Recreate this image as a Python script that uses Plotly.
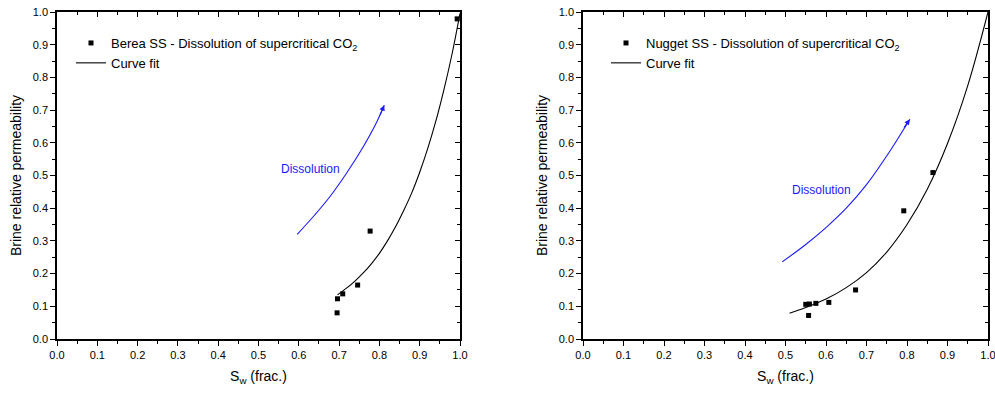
import plotly.graph_objects as go

# ---- Data ----
berea_sw = [0.993, 0.777, 0.746, 0.709, 0.696, 0.695]
berea_kr = [0.979, 0.330, 0.165, 0.138, 0.123, 0.080]
berea_fit_sw = [0.696, 0.72, 0.74, 0.76, 0.78, 0.80, 0.82, 0.84, 0.86, 0.88, 0.90, 0.92, 0.94, 0.96, 0.98, 1.0]
berea_fit_kr = [0.135, 0.157, 0.178, 0.202, 0.230, 0.262, 0.300, 0.343, 0.392, 0.446, 0.510, 0.583, 0.666, 0.762, 0.870, 0.996]
berea_arrow_sw = [0.596, 0.64, 0.677, 0.72, 0.760, 0.79, 0.812]
berea_arrow_kr = [0.320, 0.380, 0.435, 0.510, 0.588, 0.655, 0.715]

nugget_sw = [0.864, 0.792, 0.673, 0.607, 0.575, 0.559, 0.550, 0.557]
nugget_kr = [0.509, 0.392, 0.150, 0.112, 0.109, 0.107, 0.106, 0.072]
nugget_fit_sw = [0.51, 0.55, 0.60, 0.65, 0.70, 0.75, 0.80, 0.85, 0.90, 0.95, 1.0]
nugget_fit_kr = [0.079, 0.096, 0.122, 0.157, 0.203, 0.266, 0.350, 0.458, 0.598, 0.775, 1.0]
nugget_arrow_sw = [0.492, 0.55, 0.602, 0.65, 0.700, 0.758, 0.807]
nugget_arrow_kr = [0.236, 0.289, 0.343, 0.400, 0.472, 0.575, 0.672]

W, H = 995, 394
FONT = "Liberation Sans, Arial, sans-serif"
BLUE = "#1a1aff"

fig = go.Figure()

def add_panel(xa, ya, sw, kr, fsw, fkr, asw, akr, name, legend):
    fig.add_trace(go.Scatter(x=sw, y=kr, mode="markers", name=name,
                             marker=dict(symbol="square", size=5, color="black"),
                             xaxis=xa, yaxis=ya, legend=legend))
    fig.add_trace(go.Scatter(x=fsw, y=fkr, mode="lines", name="Curve fit",
                             line=dict(color="black", width=1.1, shape="spline", smoothing=1.0),
                             xaxis=xa, yaxis=ya, legend=legend))
    fig.add_trace(go.Scatter(x=asw, y=akr, mode="lines", showlegend=False,
                             line=dict(color=BLUE, width=1.1, shape="spline", smoothing=1.0),
                             xaxis=xa, yaxis=ya, hoverinfo="skip"))

add_panel("x", "y", berea_sw, berea_kr, berea_fit_sw, berea_fit_kr,
          berea_arrow_sw, berea_arrow_kr,
          "Berea SS - Dissolution of supercritical CO<sub>2</sub>", "legend")
add_panel("x2", "y2", nugget_sw, nugget_kr, nugget_fit_sw, nugget_fit_kr,
          nugget_arrow_sw, nugget_arrow_kr,
          "Nugget SS - Dissolution of supercritical CO<sub>2</sub>", "legend2")

# invisible traces for mirror axes (inside ticks on top/right)
for xa, ya in [("x3", "y3"), ("x4", "y4")]:
    fig.add_trace(go.Scatter(x=[0], y=[0], mode="markers", marker=dict(opacity=0),
                             showlegend=False, hoverinfo="skip", xaxis=xa, yaxis=ya))

ydom = [55 / H, (H - 12) / H]
dom1 = [57 / W, 460 / W]
dom2 = [583 / W, 988 / W]

tickfont = dict(family=FONT, size=11, color="black")
titlefont = dict(family=FONT, size=14, color="black")

common = dict(range=[0, 1], dtick=0.1, tickwidth=1, tickcolor="black",
              showline=True, linecolor="black", linewidth=1.5, showgrid=False,
              zeroline=False, automargin=False)

def main_x(dom, anchor):
    return dict(domain=dom, anchor=anchor, tickformat=".1f",
                ticks="outside", ticklen=5, tickfont=tickfont, ticklabeloverflow="allow",
                minor=dict(dtick=0.05, ticks="outside", ticklen=3, tickcolor="black"),
                title=dict(text="S<sub>w</sub> (frac.)", font=titlefont, standoff=11), **common)

def main_y(anchor):
    return dict(domain=ydom, anchor=anchor, tickformat=".1f",
                ticks="outside", ticklen=5, tickfont=tickfont, ticklabeloverflow="allow",
                minor=dict(dtick=0.05, ticks="outside", ticklen=3, tickcolor="black"),
                title=dict(text="Brine relative permeability", font=titlefont, standoff=8), **common)

def mirror_x(over, anchor):
    return dict(overlaying=over, side="top", anchor=anchor,
                ticks="inside", ticklen=5, showticklabels=False,
                minor=dict(dtick=0.05, ticks="inside", ticklen=3, tickcolor="black"), **common)

def mirror_y(over, anchor):
    return dict(overlaying=over, side="right", anchor=anchor,
                ticks="inside", ticklen=5, showticklabels=False,
                minor=dict(dtick=0.05, ticks="inside", ticklen=3, tickcolor="black"), **common)

legfont = dict(family=FONT, size=13, color="black")
fig.update_layout(
    width=W, height=H,
    margin=dict(l=0, r=0, t=0, b=0, autoexpand=False),
    paper_bgcolor="white", plot_bgcolor="white",
    font=dict(family=FONT, size=12, color="black"),
    xaxis=main_x(dom1, "y"),
    yaxis=main_y("x"),
    xaxis2=main_x(dom2, "y2"),
    yaxis2=main_y("x2"),
    xaxis3=mirror_x("x", "y3"),
    yaxis3=mirror_y("y", "x3"),
    xaxis4=mirror_x("x2", "y4"),
    yaxis4=mirror_y("y2", "x4"),
    legend=dict(x=71 / W, y=1 - 28 / H, xanchor="left", yanchor="top",
                bgcolor="rgba(0,0,0,0)", font=legfont,
                tracegroupgap=0, itemsizing="trace"),
    legend2=dict(x=606 / W, y=1 - 28 / H, xanchor="left", yanchor="top",
                 bgcolor="rgba(0,0,0,0)", font=legfont,
                 tracegroupgap=0, itemsizing="trace"),
    showlegend=True,
)

# Arrowheads and labels
fig.add_annotation(x=berea_arrow_sw[-1], y=berea_arrow_kr[-1], ax=0.80, ay=0.68,
                   xref="x", yref="y", axref="x", ayref="y", showarrow=True,
                   arrowhead=2, arrowsize=1, arrowwidth=1.1, arrowcolor=BLUE, text="")
fig.add_annotation(x=nugget_arrow_sw[-1], y=nugget_arrow_kr[-1], ax=0.79, ay=0.642,
                   xref="x2", yref="y2", axref="x2", ayref="y2", showarrow=True,
                   arrowhead=2, arrowsize=1, arrowwidth=1.1, arrowcolor=BLUE, text="")
fig.add_annotation(x=0.628, y=0.519, xref="x", yref="y", text="Dissolution",
                   showarrow=False, font=dict(family=FONT, size=12, color=BLUE))
fig.add_annotation(x=0.590, y=0.456, xref="x2", yref="y2", text="Dissolution",
                   showarrow=False, font=dict(family=FONT, size=12, color=BLUE))

fig.write_html("out.html")
